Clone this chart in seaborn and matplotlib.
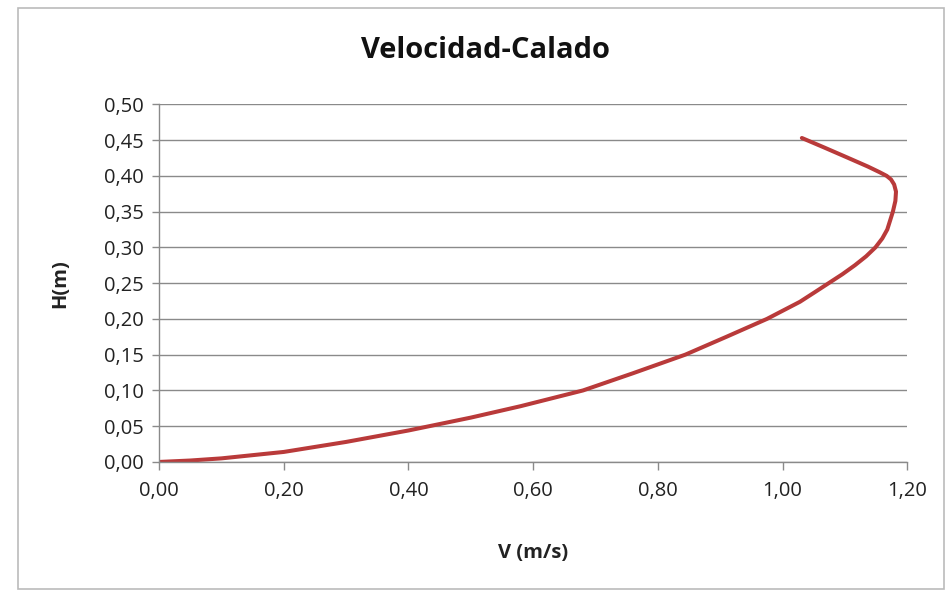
import matplotlib
matplotlib.use("Agg")
import matplotlib.pyplot as plt
import seaborn as sns
import pandas as pd
from matplotlib.patches import Rectangle
from matplotlib.ticker import FuncFormatter, MultipleLocator

velocidad = [0.00, 0.05, 0.10, 0.20, 0.30, 0.40, 0.50, 0.58, 0.68, 0.76, 0.844, 0.91,
             0.975, 1.028, 1.052, 1.074, 1.096, 1.116, 1.134, 1.149, 1.160, 1.168,
             1.177, 1.181, 1.182, 1.179, 1.174, 1.167, 1.156, 1.137, 1.103, 1.066, 1.031]
calado = [0.000, 0.002, 0.005, 0.014, 0.028, 0.044, 0.062, 0.078, 0.100, 0.124, 0.150, 0.175,
          0.200, 0.224, 0.2375, 0.250, 0.2625, 0.275, 0.2875, 0.300, 0.3125, 0.325,
          0.350, 0.365, 0.378, 0.388, 0.395, 0.400, 0.405, 0.413, 0.426, 0.440, 0.453]

df = pd.DataFrame({"V": velocidad, "H": calado})

sns.set_theme(style="white")
plt.rcParams["font.family"] = ["Open Sans", "DejaVu Sans"]

fig = plt.figure(figsize=(9.47, 5.93), dpi=100)
ax = fig.add_axes([0.168, 0.221, 0.790, 0.603])

sns.lineplot(data=df, x="V", y="H", sort=False, estimator=None, ax=ax,
             color="#B93A3A", linewidth=2.9)
for ln in ax.get_lines():
    ln.set_solid_joinstyle("round")
    ln.set_solid_capstyle("round")

ax.set_xlim(0, 1.2)
ax.set_ylim(0, 0.5)
ax.xaxis.set_major_locator(MultipleLocator(0.2))
ax.yaxis.set_major_locator(MultipleLocator(0.05))
fmt2 = FuncFormatter(lambda v, p: f"{v:.2f}".replace(".", ","))
ax.xaxis.set_major_formatter(fmt2)
ax.yaxis.set_major_formatter(fmt2)

ax.grid(axis="y", color="#8a8a8a", linewidth=1.0)
ax.grid(axis="x", visible=False)
ax.set_axisbelow(True)
for s in ["top", "right"]:
    ax.spines[s].set_visible(False)
for s in ["left", "bottom"]:
    ax.spines[s].set_color("#8a8a8a")
    ax.spines[s].set_linewidth(1.0)

ax.tick_params(axis="x", direction="out", length=6, width=1, color="#8a8a8a",
               labelsize=14.5, labelcolor="#222222", pad=8, bottom=True)
ax.tick_params(axis="y", direction="out", length=5, width=1, color="#8a8a8a",
               labelsize=14.5, labelcolor="#222222", pad=6, left=True)

ax.set_xlabel("V (m/s)", fontsize=14.5, fontweight="bold", color="#222222", labelpad=30)
ax.set_ylabel("H(m)", fontsize=14.5, fontweight="bold", color="#222222", labelpad=24)
fig.text(0.513, 0.915, "Velocidad-Calado", ha="center", va="center",
         fontsize=21, fontweight="bold", color="#111111")

fig.patches.append(Rectangle((0.019, 0.006), 0.978, 0.980, transform=fig.transFigure,
                             fill=False, edgecolor="#bbbbbb", linewidth=1.2))

fig.savefig("out.png", dpi=100)
